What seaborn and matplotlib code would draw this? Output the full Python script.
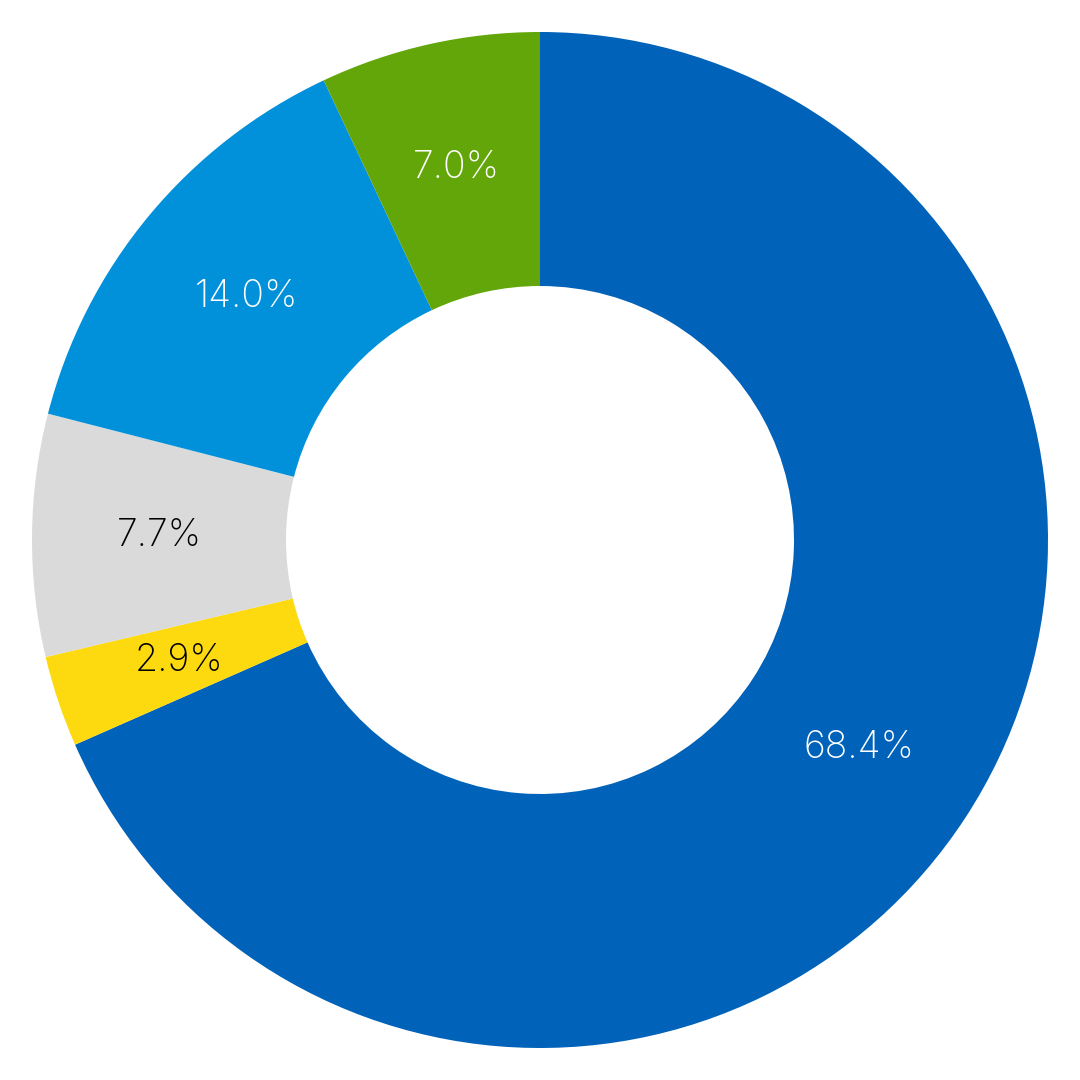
import matplotlib
matplotlib.use("Agg")
import matplotlib.pyplot as plt
import seaborn as sns

sns.set_theme(style="white")
plt.rcParams['font.family'] = ['Inter', 'DejaVu Sans']

categories = ["A", "B", "C", "D", "E"]
values = [68.4, 2.9, 7.7, 14.0, 7.0]
labels = ["68.4%", "2.9%", "7.7%", "14.0%", "7.0%"]
colors = ["#0062B8", "#FCDA0F", "#DADADA", "#0091DA", "#63A60A"]
text_colors = ["white", "black", "black", "white", "white"]

fig = plt.figure(figsize=(10.8, 10.8), dpi=100)
ax = fig.add_axes([0, 0, 1, 1])
wedges, texts = ax.pie(values, colors=colors, startangle=90, counterclock=False,
                       radius=1.0, wedgeprops=dict(width=0.5, linewidth=0),
                       labels=labels, labeldistance=0.75)
for t, c in zip(texts, text_colors):
    t.set_color(c)
    t.set_fontsize(27)
    t.set_fontweight("light")
    t.set_ha("center")
    t.set_va("center")
lim = 540 / 508
ax.set_xlim(-lim, lim)
ax.set_ylim(-lim, lim)
ax.set_aspect("equal")
ax.axis("off")
fig.savefig("out.png", dpi=100, facecolor="white")
